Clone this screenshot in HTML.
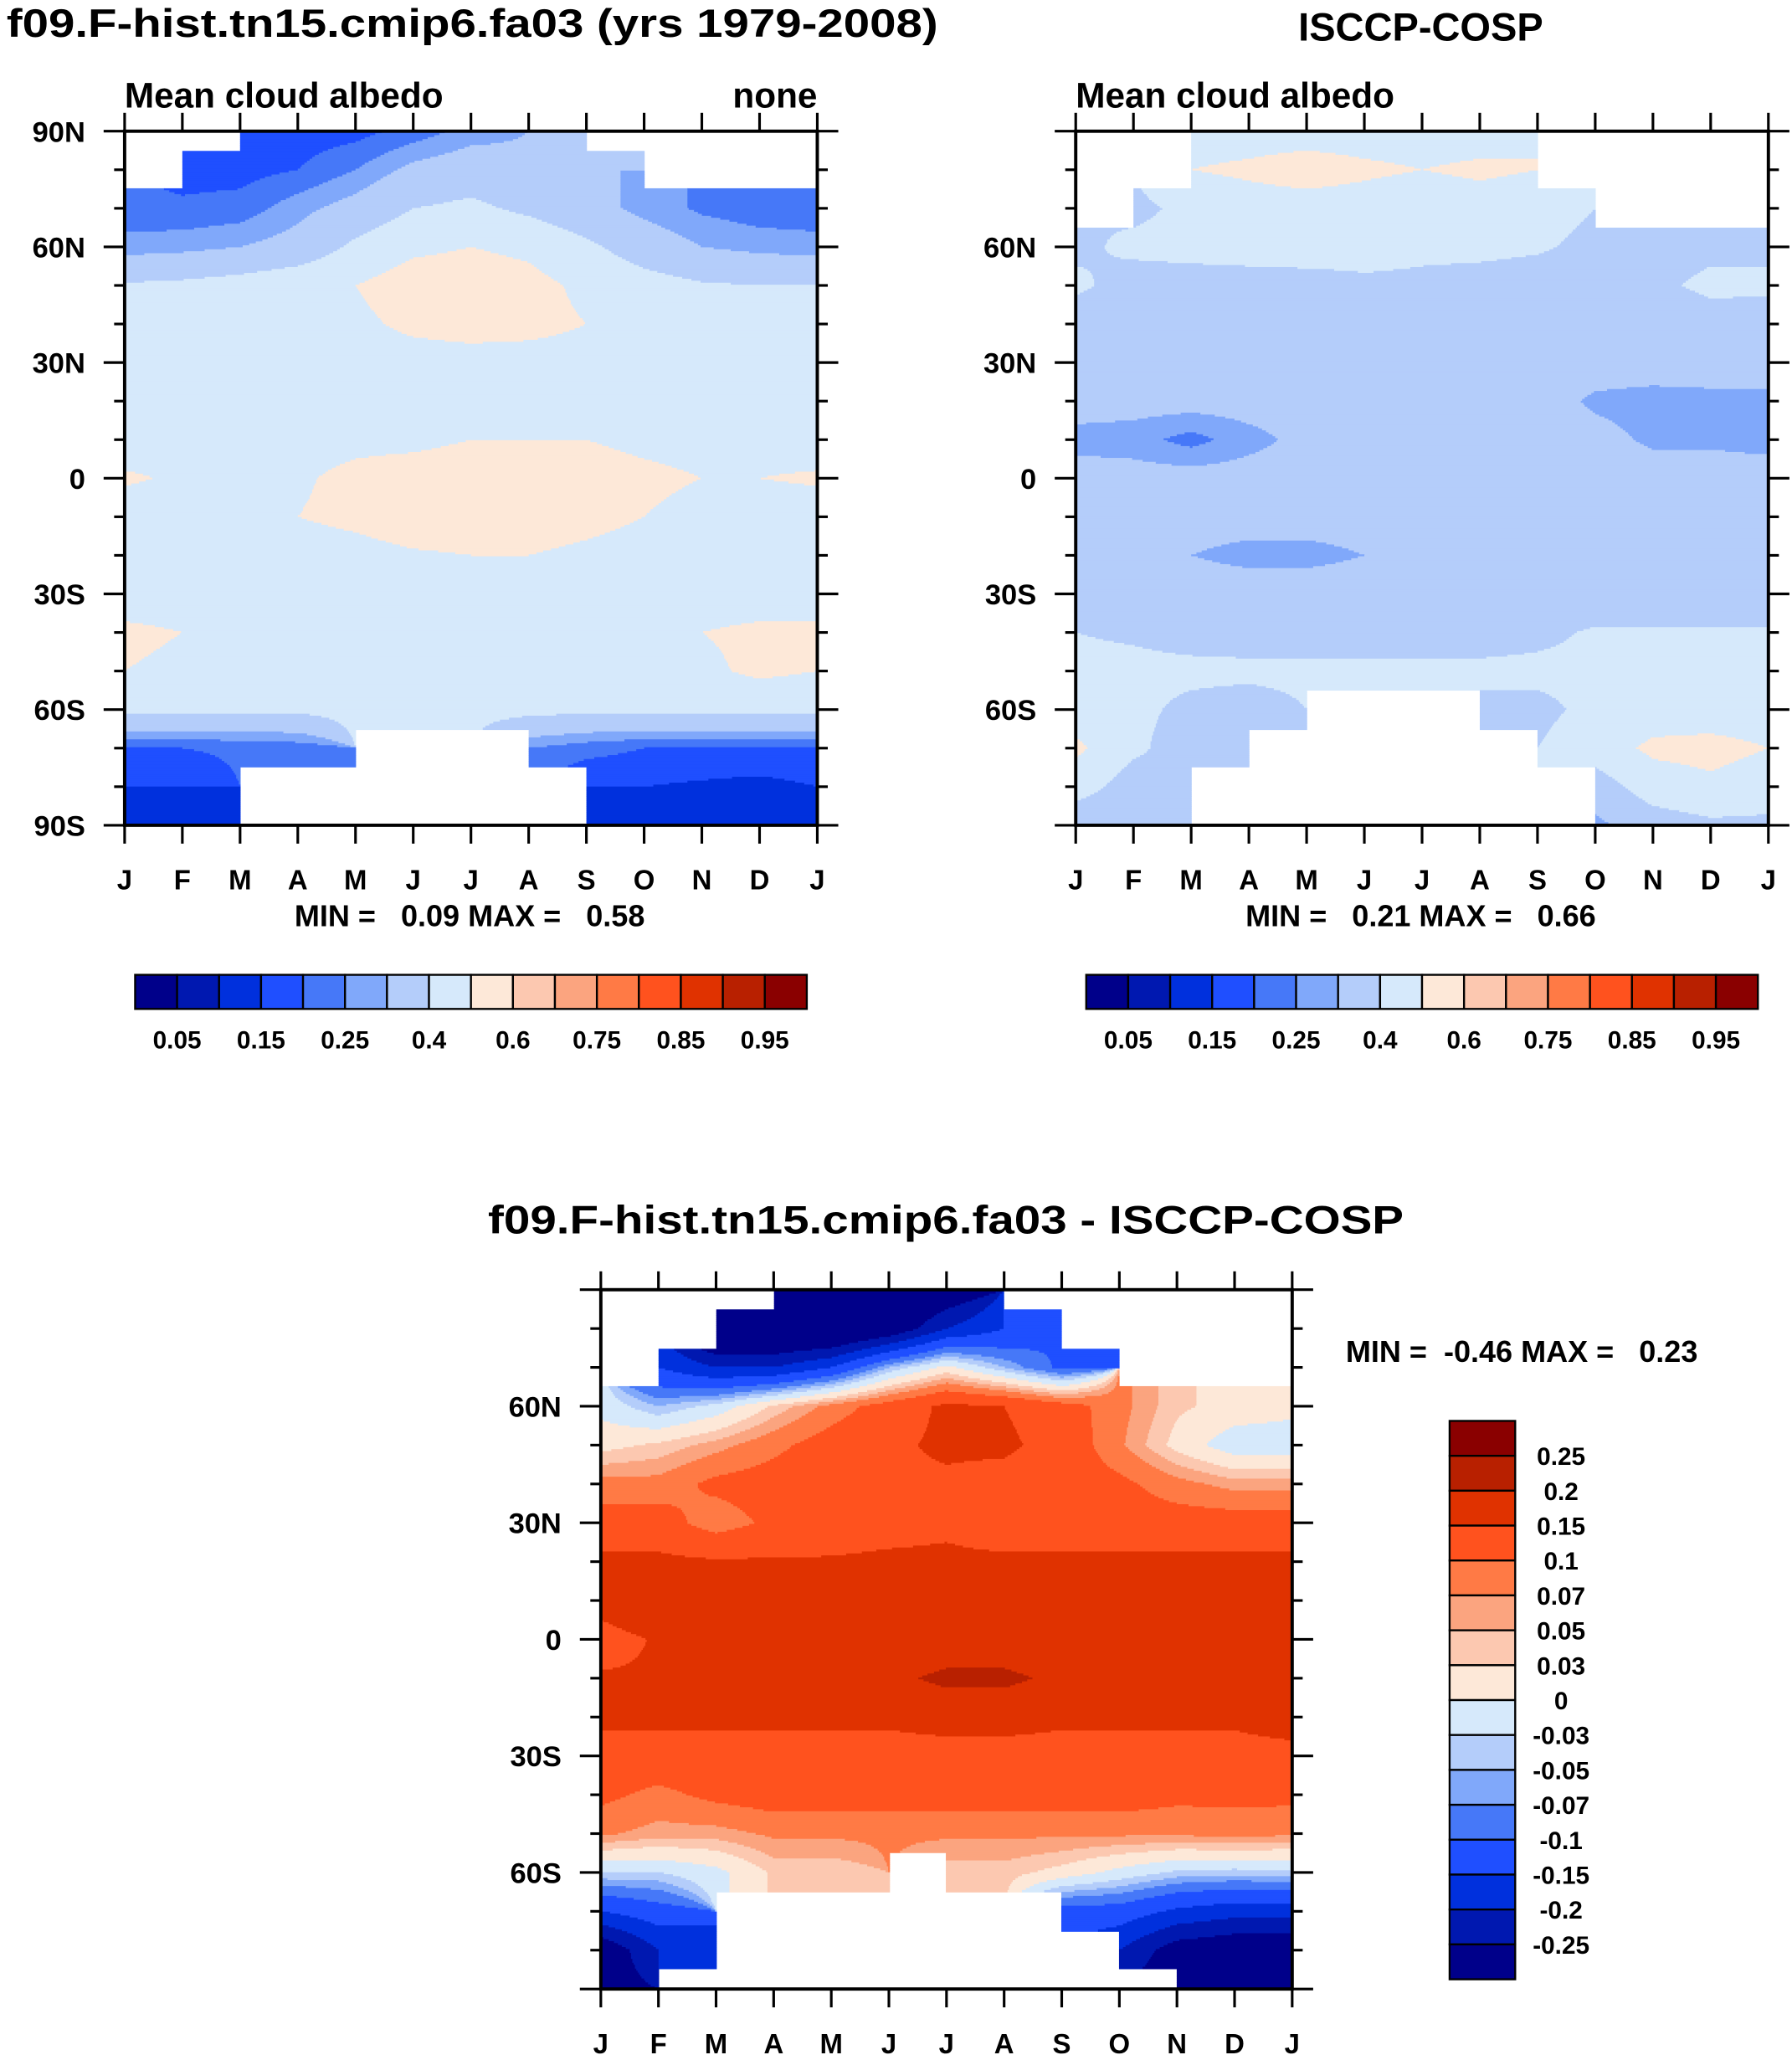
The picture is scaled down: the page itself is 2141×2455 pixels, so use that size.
<!DOCTYPE html>
<html><head><meta charset="utf-8"><style>html,body{margin:0;padding:0;background:#fff}svg{display:block}text{font-family:"Liberation Sans",Arial,sans-serif;font-weight:bold;fill:#000;white-space:pre}</style></head>
<body>
<svg id="root" xmlns="http://www.w3.org/2000/svg" xml:space="preserve" width="2141" height="2455" viewBox="0 0 1366 1566.3" preserveAspectRatio="none">
<text x="5" y="28" font-size="30" textLength="710" lengthAdjust="spacingAndGlyphs">f09.F-hist.tn15.cmip6.fa03 (yrs 1979-2008)</text>
<text x="1083" y="31" font-size="30" text-anchor="middle">ISCCP-COSP</text>
<text x="721" y="940" font-size="30" text-anchor="middle" textLength="698" lengthAdjust="spacingAndGlyphs">f09.F-hist.tn15.cmip6.fa03 - ISCCP-COSP</text>
<g id="g1"></g>
<g id="g2"></g>
<g id="g3"></g>
</svg>
<script>
const months = ["J","F","M","A","M","J","J","A","S","O","N","D","J"];
const lats = [90,80,70,60,50,40,30,20,10,0,-10,-20,-30,-40,-50,-60,-70,-80,-90];
const N = NaN;
const albedoLevels = [0.05,0.1,0.15,0.2,0.25,0.3,0.4,0.5,0.6,0.7,0.75,0.8,0.85,0.9,0.95];
const albedoLabels = ["0.05","0.15","0.25","0.4","0.6","0.75","0.85","0.95"];
const diffLevels = [-0.25,-0.2,-0.15,-0.1,-0.07,-0.05,-0.03,0,0.03,0.05,0.07,0.1,0.15,0.2,0.25];
const diffLabels = ["-0.25","-0.2","-0.15","-0.1","-0.07","-0.05","-0.03","0","0.03","0.05","0.07","0.1","0.15","0.2","0.25"];
const palette = ["#00008a","#0018b0","#0030dd","#1f4fff","#4678f8","#80a8fa","#b4cdfa","#d6e9fb","#fde8d8","#fcc8b0","#fba47f","#ff7a45","#ff521e","#e03200","#b82000","#8a0000"];
// NaN at column j marks the month interval j..j+1 as missing
const modelValues = [
[N,N,0.17,0.17,0.18,0.22,0.27,0.3,N,N,N,N,0.2],
[N,0.18,0.18,0.2,0.25,0.32,0.35,0.32,0.3,N,N,N,0.2],
[0.22,0.21,0.22,0.28,0.33,0.4,0.42,0.38,0.33,0.28,0.24,0.22,0.22],
[0.27,0.28,0.3,0.33,0.42,0.48,0.5,0.48,0.42,0.35,0.3,0.28,0.27],
[0.41,0.42,0.44,0.47,0.5,0.55,0.55,0.53,0.48,0.44,0.41,0.4,0.4],
[0.44,0.44,0.45,0.46,0.48,0.52,0.54,0.53,0.5,0.46,0.44,0.44,0.44],
[0.45,0.45,0.45,0.45,0.46,0.46,0.46,0.46,0.46,0.45,0.45,0.45,0.45],
[0.45,0.45,0.45,0.45,0.46,0.46,0.46,0.46,0.46,0.45,0.45,0.45,0.45],
[0.46,0.47,0.47,0.47,0.48,0.48,0.5,0.5,0.5,0.48,0.47,0.47,0.46],
[0.51,0.49,0.48,0.49,0.52,0.54,0.55,0.55,0.54,0.52,0.5,0.5,0.51],
[0.46,0.46,0.47,0.5,0.52,0.55,0.55,0.55,0.53,0.5,0.47,0.46,0.46],
[0.44,0.44,0.45,0.46,0.47,0.49,0.5,0.5,0.48,0.46,0.45,0.44,0.44],
[0.45,0.45,0.45,0.45,0.45,0.46,0.46,0.45,0.45,0.45,0.45,0.45,0.45],
[0.52,0.5,0.48,0.48,0.5,0.5,0.5,0.48,0.47,0.48,0.5,0.52,0.52],
[0.5,0.48,0.46,0.46,0.46,0.46,0.46,0.46,0.46,0.46,0.48,0.52,0.5],
[0.42,0.42,0.42,0.42,0.43,0.43,0.43,0.43,0.42,0.42,0.42,0.42,0.42],
[0.2,0.2,0.21,0.22,N,N,N,0.25,0.22,0.2,0.2,0.2,0.2],
[0.15,0.15,N,N,N,N,N,N,0.15,0.15,0.14,0.13,0.15],
[0.13,0.13,N,N,N,N,N,N,0.13,0.13,0.13,0.13,0.13]];
const obsValues = [
[N,N,0.45,0.45,0.45,0.45,0.45,0.45,N,N,N,N,0.45],
[N,N,0.5,0.52,0.55,0.52,0.5,0.52,N,N,N,N,0.45],
[N,0.38,0.42,0.45,0.45,0.45,0.43,0.45,0.43,N,N,N,0.4],
[0.38,0.42,0.43,0.44,0.45,0.44,0.42,0.42,0.41,0.38,0.36,0.38,0.38],
[0.42,0.36,0.36,0.36,0.36,0.38,0.38,0.37,0.36,0.36,0.38,0.42,0.42],
[0.34,0.34,0.34,0.34,0.34,0.34,0.34,0.34,0.34,0.34,0.34,0.36,0.35],
[0.34,0.34,0.34,0.34,0.34,0.34,0.34,0.34,0.34,0.33,0.33,0.34,0.34],
[0.33,0.33,0.33,0.33,0.33,0.34,0.34,0.33,0.33,0.29,0.28,0.28,0.28],
[0.28,0.27,0.23,0.28,0.32,0.33,0.33,0.33,0.33,0.32,0.29,0.29,0.28],
[0.33,0.33,0.33,0.33,0.33,0.33,0.33,0.33,0.33,0.33,0.33,0.33,0.33],
[0.33,0.33,0.33,0.33,0.33,0.33,0.33,0.33,0.33,0.33,0.33,0.33,0.33],
[0.33,0.33,0.3,0.28,0.28,0.3,0.33,0.33,0.33,0.33,0.33,0.33,0.33],
[0.34,0.34,0.34,0.34,0.34,0.34,0.34,0.34,0.34,0.34,0.34,0.34,0.34],
[0.4,0.39,0.37,0.36,0.36,0.36,0.36,0.36,0.38,0.41,0.41,0.41,0.41],
[0.42,0.42,0.42,0.42,0.42,0.42,0.42,0.42,0.42,0.42,0.42,0.42,0.42],
[0.45,0.42,0.38,0.36,N,N,N,0.38,0.38,0.42,0.45,0.45,0.45],
[0.52,0.42,0.35,N,N,N,N,N,0.4,0.45,0.52,0.53,0.5],
[0.45,0.35,N,N,N,N,N,N,N,0.35,0.45,0.48,0.45],
[0.32,0.3,N,N,N,N,N,N,N,0.28,0.35,0.38,0.38]];
const diffValues = [
[N,N,N,-0.35,-0.35,-0.35,-0.3,N,N,N,N,N,0],
[N,N,-0.35,-0.35,-0.35,-0.3,-0.2,-0.15,N,N,N,N,0],
[N,-0.15,-0.2,-0.2,-0.15,-0.05,0.01,-0.05,-0.11,N,N,N,0],
[-0.01,-0.05,-0.02,0.035,0.08,0.12,0.16,0.15,0.12,0.08,0.035,0.02,0.01],
[0.02,0.035,0.06,0.09,0.12,0.14,0.16,0.16,0.13,0.075,0.02,-0.02,-0.02],
[0.08,0.08,0.11,0.12,0.13,0.14,0.14,0.13,0.12,0.11,0.08,0.06,0.06],
[0.12,0.12,0.08,0.11,0.12,0.13,0.14,0.12,0.12,0.12,0.12,0.12,0.12],
[0.16,0.16,0.155,0.155,0.155,0.16,0.16,0.16,0.16,0.16,0.16,0.16,0.16],
[0.17,0.2,0.17,0.16,0.16,0.16,0.16,0.16,0.16,0.16,0.16,0.16,0.17],
[0.13,0.155,0.155,0.16,0.16,0.16,0.17,0.17,0.16,0.155,0.16,0.16,0.16],
[0.155,0.155,0.16,0.17,0.18,0.19,0.21,0.21,0.19,0.17,0.16,0.16,0.16],
[0.16,0.16,0.16,0.16,0.16,0.16,0.17,0.17,0.16,0.16,0.16,0.16,0.18],
[0.13,0.13,0.13,0.13,0.13,0.13,0.13,0.13,0.13,0.13,0.13,0.13,0.13],
[0.11,0.09,0.11,0.12,0.12,0.12,0.12,0.12,0.12,0.12,0.11,0.11,0.11],
[0.075,0.06,0.06,0.075,0.075,0.075,0.075,0.075,0.075,0.075,0.075,0.08,0.075],
[-0.03,-0.03,-0.01,0.035,0.035,N,0.04,0.04,0.02,-0.01,-0.035,-0.04,-0.035],
[-0.15,-0.12,N,N,N,N,N,N,-0.12,-0.12,-0.16,-0.18,-0.18],
[-0.3,-0.2,N,N,N,N,N,N,N,-0.2,-0.28,-0.3,-0.3],
[-0.28,N,N,N,N,N,N,N,N,N,-0.3,-0.3,-0.3]];

const NS="http://www.w3.org/2000/svg";
function mk(tag,attrs,parent){const e=document.createElementNS(NS,tag);for(const k in attrs)e.setAttribute(k,attrs[k]);parent.appendChild(e);return e;}
function colorOf(v,levels){v=Math.round(v*1e5)/1e5;let i=0;while(i<levels.length&&v>=levels[i])i++;return palette[i];}
function sample(grid,fx,fy){
  const ny=Math.round(fy),mx=Math.min(Math.floor(fx),11);
  if(isNaN(grid[ny][mx]))return NaN;
  const x0=Math.min(Math.floor(fx),11),y0=Math.min(Math.floor(fy),17),tx=fx-x0,ty=fy-y0;
  let s=0,w=0;
  [[0,0],[1,0],[0,1],[1,1]].forEach(([a,b])=>{const v=grid[y0+b][x0+a];if(!isNaN(v)){const ww=(a?tx:1-tx)*(b?ty:1-ty)+1e-6;s+=v*ww;w+=ww;}});
  if(w===0){const row=grid[ny];for(let d=1;d<13;d++){for(const c of [mx-d,mx+d]){if(c>=0&&c<13&&!isNaN(row[c]))return row[c];}}return NaN;}
  return s/w;
}
function latLabel(l){return l===0?"0":Math.abs(l)+(l>0?"N":"S");}
function panel(g,px,py,w,h,grid,levels,opts){
  const xs=m=>px+m/12*w, ys=l=>py+(90-l)/180*h;
  const field=mk("g",{},g);
  
  
  const dy=1.5,dx=1;
  for(let y=0;y<h;y+=dy){
    const fy=Math.min((y+dy/2)/h*18,18);let runStart=0,runCol=null;
    for(let x=0;x<=w;x+=dx){
      let c=null;
      if(x<w){const v=sample(grid,(x+dx/2)/w*12,fy);c=isNaN(v)?"none":colorOf(v,levels);}
      if(c!==runCol){
        if(runCol&&runCol!=="none"){const r=mk("rect",{x:px+runStart,y:py+y,width:x-runStart+0.4,height:Math.min(dy+0.4,h-y),fill:runCol},field);
          
          }
        runStart=x;runCol=c;}
    }
  }
  const frame=mk("rect",{x:px,y:py,width:w,height:h,fill:"none",stroke:"#000","stroke-width":2.5},g);
  
  
  const ax=mk("g",{stroke:"#000","stroke-width":2},g);
  
  
  months.forEach((m,i)=>{
    mk("line",{x1:xs(i),x2:xs(i),y1:py,y2:py-14},ax);
    mk("line",{x1:xs(i),x2:xs(i),y1:py+h,y2:py+h+14},ax);
    const t=mk("text",{x:xs(i),y:py+h+49,"font-size":21,"text-anchor":"middle"},g);t.textContent=m;
    
    
  });
  lats.forEach(l=>{
    const major=l%30===0,len=major?16:8;
    mk("line",{x1:px,x2:px-len,y1:ys(l),y2:ys(l)},ax);
    mk("line",{x1:px+w,x2:px+w+len,y1:ys(l),y2:ys(l)},ax);
    if(major&&opts.latLabels.includes(l)){const t=mk("text",{x:px-30,y:ys(l)+8,"font-size":22,"text-anchor":"end"},g);t.textContent=latLabel(l);
      
      }
  });
}
function hbar(g,x0,y0,bw,bh,labels){
  palette.forEach((c,i)=>{const r=mk("rect",{x:x0+i*bw,y:y0,width:bw,height:bh,fill:c,stroke:"#000","stroke-width":1.5},g);
    
    });
  labels.forEach((s,k)=>{const t=mk("text",{x:x0+(2*k+1)*bw,y:y0+bh+30,"font-size":19,"text-anchor":"middle"},g);t.textContent=s;
    
    });
}
function txt(g,x,y,s,size,anchor,name){const t=mk("text",{x:x,y:y,"font-size":size,"text-anchor":anchor},g);t.textContent=s;
  
  return t;}

const g1=document.getElementById("g1"),g2=document.getElementById("g2"),g3=document.getElementById("g3");
panel(g1,95,100,528,529,modelValues,albedoLevels,{latLabels:[90,60,30,0,-30,-60,-90]});
txt(g1,95,82,"Mean cloud albedo",27,"start","left-subtitle");
txt(g1,623,82,"none",27,"end","units-label");
txt(g1,358,706,"MIN =   0.09 MAX =   0.58",23,"middle","min-max-label");
hbar(g1,103,743,32,26,albedoLabels);

panel(g2,820,100,528,529,obsValues,albedoLevels,{latLabels:[60,30,0,-30,-60]});
txt(g2,820,82,"Mean cloud albedo",27,"start","left-subtitle");
txt(g2,1083,706,"MIN =   0.21 MAX =   0.66",23,"middle","min-max-label");
hbar(g2,828,743,32,26,albedoLabels);

panel(g3,458,983,527,533,diffValues,diffLevels,{latLabels:[60,30,0,-30,-60]});
txt(g3,1160,1038,"MIN =  -0.46 MAX =   0.23",23,"middle","min-max-label");
(function(){const x0=1105,y0=1083,bw=50,bh=26.6;
  for(let i=0;i<16;i++){const r=mk("rect",{x:x0,y:y0+i*bh,width:bw,height:bh,fill:palette[15-i],stroke:"#000","stroke-width":1.5},g3);
    
    }
  for(let k=0;k<15;k++){const t=mk("text",{x:1190,y:y0+(k+1)*bh+7,"font-size":19,"text-anchor":"middle"},g3);t.textContent=diffLabels[14-k];
    
    }
})();
</script>
</body></html>
